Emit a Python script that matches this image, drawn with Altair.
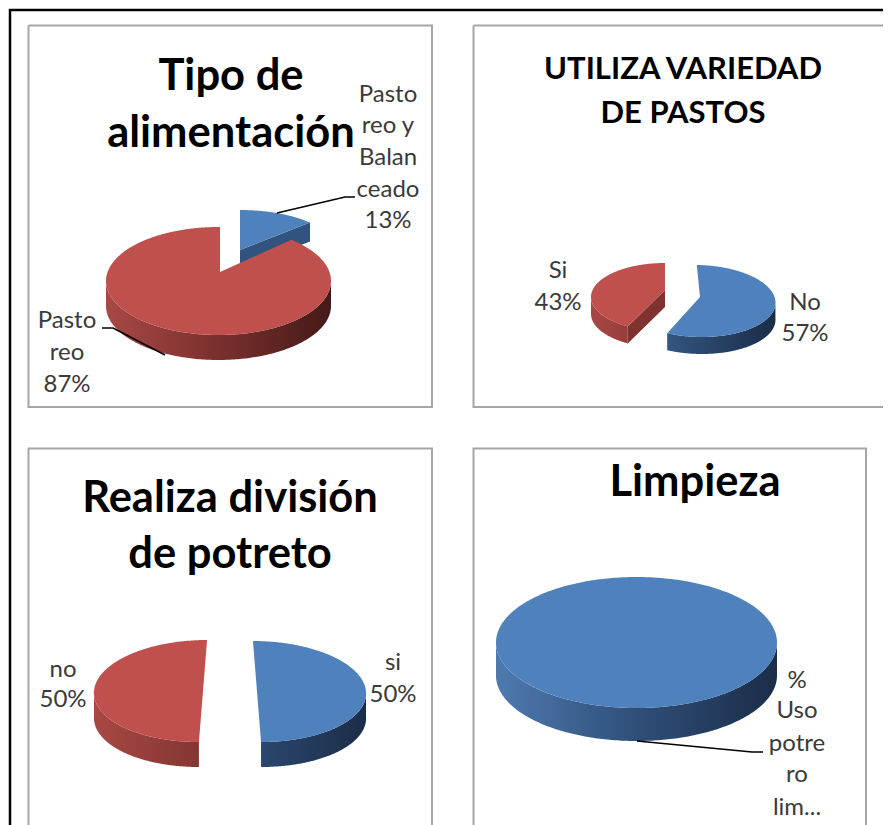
import math
import altair as alt

# ---- values ----
pie1_names = ["Pasto reo y Balanceado", "Pasto reo"]
pie1_values = [13, 87]
pie2_names = ["No", "Si"]
pie2_values = [57, 43]
pie3_names = ["si", "no"]
pie3_values = [50, 50]
pie4_names = ["% Uso potrero limpio"]
pie4_values = [100]

title1 = ["Tipo de", "alimentación"]
title2 = ["UTILIZA VARIEDAD", "DE PASTOS"]
title3 = ["Realiza división", "de potreto"]
title4 = ["Limpieza"]

label1a = ["Pasto", "reo y", "Balan", "ceado", "13%"]
label1b = ["Pasto", "reo", "87%"]
label2a = ["No", "57%"]
label2b = ["Si", "43%"]
label3a = ["si", "50%"]
label3b = ["no", "50%"]
label4a = ["%", "Uso", "potre", "ro", "lim..."]

# ---- styles ----
BLUE, RED = "#4F81BD", "#C0504D"
BLUE_RAMP = [(78, 122, 176), (47, 79, 120), (27, 45, 72)]
RED_RAMP = [(168, 72, 68), (122, 48, 46), (68, 26, 24)]
FONT = "Lato"
TEXT_GREY = "#3a3a3a"

# The projection maps layout units straight to picture pixels
PROJ = dict(type="identity", scale=1, translate=[-8, -8])


def ray_point(a, c, rx, ry, theta):
    """Where the ray from apex a at pie angle theta meets the rim ellipse."""
    dx, dy = math.sin(theta) * rx, -math.cos(theta) * ry
    px, py = (a[0] - c[0]) / rx, (a[1] - c[1]) / ry
    qx, qy = dx / rx, dy / ry
    A = qx * qx + qy * qy
    B = 2 * (px * qx + py * qy)
    C = px * px + py * py - 1
    t = (-B + math.sqrt(max(B * B - 4 * A * C, 0))) / (2 * A)
    return (a[0] + t * dx, a[1] + t * dy)


def poly(points):
    ring = [[round(x, 2), round(y, 2)] for x, y in points]
    ring.append(ring[0])
    return {"type": "Feature", "properties": {},
            "geometry": {"type": "Polygon", "coordinates": [ring]}}


def line(points):
    return {"type": "Feature", "properties": {},
            "geometry": {"type": "LineString", "coordinates": [list(p) for p in points]}}


def ramp_colour(ramp, t):
    t = min(max(t, 0), 1) * 2
    i = min(int(t), 1)
    f = t - i
    rgb = [round(ramp[i][k] + (ramp[i + 1][k] - ramp[i][k]) * f) for k in range(3)]
    return "#%02x%02x%02x" % tuple(rgb)


def shape(feature, fill):
    return alt.Chart(alt.Data(values=[feature])).mark_geoshape(
        fill=fill, stroke=None, strokeWidth=0).project(**PROJ)


def stroke_line(points, colour, width):
    return alt.Chart(alt.Data(values=[line(points)])).mark_geoshape(
        filled=False, stroke=colour, strokeWidth=width).project(**PROJ)


def slice_layers(share_from, share_to, colour, ramp, a, c, rx, ry, depth,
                 shear=0.0, radial=None, pie_left=None, pie_right=None):
    """Layers for one slice; angles come from the cumulative share of the values."""
    t0, t1 = share_from / 100 * 2 * math.pi, share_to / 100 * 2 * math.pi
    n = 360
    arc = [ray_point(a, c, rx, ry, t0 + (t1 - t0) * i / n) for i in range(n + 1)]
    sh = lambda p: (p[0] + shear * (p[1] - a[1]), p[1])
    layers = []
    if radial is not None:
        e = arc[0] if radial == "start" else arc[-1]
        quad = [a, e, (e[0], e[1] + depth), (a[0], a[1] + depth)]
        layers.append(shape(poly([sh(p) for p in quad]), ramp_colour(ramp, 0.45)))
    front = [p for p in arc if p[1] >= c[1]]
    if front:
        wall = [sh(p) for p in front]
        wall = wall + [(x, y + depth) for x, y in reversed(wall)]
        xs = [p[0] for p in wall]
        lo, hi = min(xs), max(xs)
        span = (pie_right - pie_left)
        stops = []
        for i in range(7):
            x = lo + (hi - lo) * i / 6
            stops.append(alt.GradientStop(offset=i / 6, color=ramp_colour(ramp, (x - pie_left) / span)))
        grad = alt.LinearGradient(gradient="linear", stops=stops, x1=0, x2=1, y1=0, y2=0)
        layers.append(shape(poly(wall), grad))
    top = arc if share_to - share_from >= 100 else [a] + arc
    layers.append(shape(poly([sh(p) for p in top]), colour))
    return layers


def text_block(lines, cx, baselines, size, bold=False, colour=TEXT_GREY):
    rows = [{"t": t, "x": cx, "y": y} for t, y in zip(lines, baselines)]
    return alt.Chart(alt.Data(values=rows)).mark_text(
        font=FONT, fontSize=size, fontWeight="bold" if bold else "normal",
        color=colour, align="center", baseline="alphabetic"
    ).encode(longitude="x:Q", latitude="y:Q", text="t:N").project(**PROJ)


layers = []

# outer black frame
layers.append(stroke_line([(10, 830), (10, 10), (900, 10)], "#000000", 2.5))

# panel frames
PANEL = "#a6a6a6"
layers.append(stroke_line([(28.5, 25.5), (432, 25.5), (432, 407), (28.5, 407), (28.5, 25.5)], PANEL, 2))
layers.append(stroke_line([(473.5, 25.5), (889.5, 25.5), (889.5, 407), (473.5, 407), (473.5, 25.5)], PANEL, 2))
layers.append(stroke_line([(28.5, 830), (28.5, 448.5), (432, 448.5), (432, 830)], PANEL, 2))
layers.append(stroke_line([(473.5, 830), (473.5, 448.5), (866, 448.5), (866, 830)], PANEL, 2))

# pie 1
cum = pie1_values[0]
layers += slice_layers(0, cum, BLUE, BLUE_RAMP, (240, 250), (240, 250), 96, 40, 19,
                       radial="end", pie_left=106, pie_right=331)
layers += slice_layers(cum, cum + pie1_values[1], RED, RED_RAMP, (220, 272), (218.5, 281), 112.5, 54, 25,
                       pie_left=106, pie_right=331)

# pie 2
cum = pie2_values[0]
layers += slice_layers(0, cum, BLUE, BLUE_RAMP, (700, 297), (698, 301), 77, 36, 17, shear=0.1,
                       pie_left=591, pie_right=775)
layers += slice_layers(cum, cum + pie2_values[1], RED, RED_RAMP, (665, 290), (665, 297), 74, 34, 17,
                       radial="start", pie_left=591, pie_right=775)

# pie 3
cum = pie3_values[0]
layers += slice_layers(0, cum, BLUE, BLUE_RAMP, (257, 691.5), (257, 691.5), 109, 50.5, 25, shear=0.08,
                       pie_left=94, pie_right=366)
layers += slice_layers(cum, cum + pie3_values[1], RED, RED_RAMP, (203, 691), (203, 691), 109, 51, 25, shear=-0.08,
                       pie_left=94, pie_right=366)

# pie 4
layers += slice_layers(0, pie4_values[0], BLUE, BLUE_RAMP, (636.5, 642.5), (636.5, 642.5), 140.5, 65.5, 33,
                       pie_left=496, pie_right=777)

# leader lines
layers.append(stroke_line([(277, 213), (345, 197), (355, 197)], "#000000", 1.5))
layers.append(stroke_line([(102, 328), (113, 328), (165, 355)], "#000000", 1.5))
layers.append(stroke_line([(637, 741), (752, 752), (763, 752)], "#000000", 1.5))

# titles
layers.append(text_block(title1, 231, [90, 147], 43.5, True, "#000000"))
layers.append(text_block(title2, 683, [79, 123], 31, True, "#000000"))
layers.append(text_block(title3, 230, [512, 568], 43.5, True, "#000000"))
layers.append(text_block(title4, 695, [496], 43.5, True, "#000000"))

# data labels
LS = 24
layers.append(text_block(label1a, 388, [102, 133, 165, 197, 228], LS))
layers.append(text_block(label1b, 67, [328, 360, 392], LS))
layers.append(text_block(label2a, 805, [310, 341], LS))
layers.append(text_block(label2b, 558, [278, 310], LS))
layers.append(text_block(label3a, 393, [670, 702], LS))
layers.append(text_block(label3b, 63, [677, 707], LS))
layers.append(text_block(label4a, 797, [688, 718, 751, 782, 815], LS))

chart = alt.layer(*layers).properties(
    width=875, height=817, padding=0,
    autosize=alt.AutoSizeParams(type="none"),
    background="#ffffff",
).configure_view(stroke=None)

chart.save("out.html", embed_options={"renderer": "svg", "actions": False})
